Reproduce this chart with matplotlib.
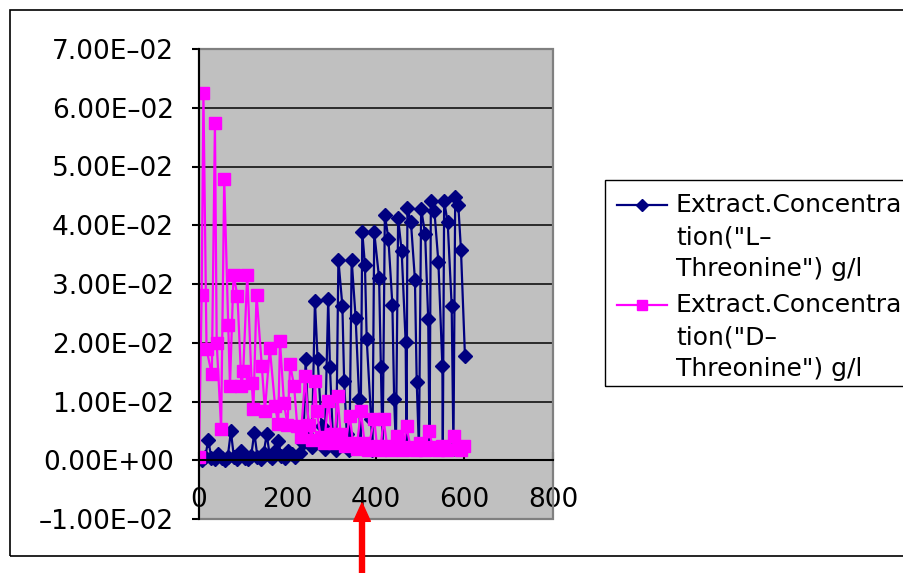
import matplotlib
matplotlib.use('Agg')
import matplotlib.pyplot as plt
from matplotlib.lines import Line2D
from matplotlib.patches import Rectangle
from matplotlib.ticker import FuncFormatter

W, H = 904, 573

# L-Threonine extract concentration (g/l) vs time
l_x = [0, 7, 14, 21, 28, 36, 44, 51, 58, 65, 72, 79, 87, 96, 104, 111, 118, 125,
       132, 139, 146, 153, 160, 166, 172, 179, 186, 194, 202, 210, 218, 228, 236,
       241, 248, 255, 262, 268, 277, 284, 292, 296, 303, 310, 315, 324, 328, 334,
       340, 345, 354, 362, 365, 369, 375, 379, 389, 392, 396, 407, 411, 415, 420,
       428, 437, 441, 445, 450, 458, 467, 469, 471, 479, 488, 492, 497, 502, 511,
       518, 521, 524, 532, 541, 550, 551, 554, 562, 571, 575, 579, 586, 592, 601]
l_y = [0.0003, 0.0001, 0.0006, 0.0034, 0.0004, 0.0002, 0.0010, 0.0003, 0.0001,
       0.0006, 0.0049, 0.0005, 0.0002, 0.0016, 0.0003, 0.0002, 0.0008, 0.0047,
       0.0006, 0.0002, 0.0012, 0.0044, 0.0008, 0.0003, 0.0015, 0.0033, 0.0008,
       0.0004, 0.0016, 0.0010, 0.0006, 0.0013, 0.0030, 0.0173, 0.0040, 0.0022,
       0.0271, 0.0173, 0.0058, 0.0020, 0.0274, 0.0158, 0.0030, 0.0018, 0.0341,
       0.0263, 0.0135, 0.0044, 0.0018, 0.0341, 0.0242, 0.0104, 0.0025, 0.0388,
       0.0333, 0.0206, 0.0070, 0.0018, 0.0388, 0.0310, 0.0158, 0.0020, 0.0418,
       0.0377, 0.0265, 0.0104, 0.0020, 0.0412, 0.0356, 0.0201, 0.0020, 0.0429,
       0.0405, 0.0307, 0.0134, 0.0020, 0.0428, 0.0385, 0.0240, 0.0020, 0.0441,
       0.0424, 0.0337, 0.0160, 0.0020, 0.0441, 0.0405, 0.0263, 0.0020, 0.0448,
       0.0434, 0.0358, 0.0178]

# D-Threonine extract concentration (g/l) vs time
d_x = [0, 6, 10, 17, 29, 36, 40, 50, 57, 66, 70, 78, 87, 96, 100, 109, 119, 123,
       130, 142, 149, 160, 172, 179, 183, 192, 200, 206, 215, 222, 230, 240, 248,
       255, 262, 266, 275, 283, 292, 300, 306, 313, 320, 330, 341, 348, 356, 366,
       374, 382, 396, 402, 410, 417, 425, 435, 447, 455, 462, 469, 478, 490, 500,
       510, 520, 528, 540, 550, 560, 577, 585, 592, 600]
d_y = [0.0006, 0.0282, 0.0625, 0.0189, 0.0146, 0.0574, 0.0200, 0.0054, 0.0479,
       0.0231, 0.0126, 0.0316, 0.0279, 0.0126, 0.0152, 0.0316, 0.0132, 0.0087,
       0.0282, 0.0160, 0.0084, 0.0191, 0.0092, 0.0061, 0.0203, 0.0098, 0.0060,
       0.0163, 0.0126, 0.0058, 0.0040, 0.0143, 0.0060, 0.0035, 0.0135, 0.0084,
       0.0040, 0.0030, 0.0101, 0.0045, 0.0030, 0.0109, 0.0045, 0.0025, 0.0075,
       0.0030, 0.0020, 0.0084, 0.0030, 0.0018, 0.0070, 0.0025, 0.0018, 0.0070,
       0.0025, 0.0018, 0.0041, 0.0020, 0.0018, 0.0058, 0.0022, 0.0018, 0.0030,
       0.0018, 0.0050, 0.0022, 0.0018, 0.0025, 0.0018, 0.0041, 0.0020, 0.0018,
       0.0025]

x_ticks = [0, 200, 400, 600, 800]
y_ticks = [-0.01, 0.0, 0.01, 0.02, 0.03, 0.04, 0.05, 0.06, 0.07]
legend_l = ['Extract.Concentra', 'tion("L\u2013', 'Threonine") g/l']
legend_d = ['Extract.Concentra', 'tion("D\u2013', 'Threonine") g/l']

navy = '#000080'
magenta = '#FF00FF'

fig = plt.figure(figsize=(W / 100, H / 100), dpi=100)
ax = fig.add_axes([199 / W, 1 - 519 / H, (553 - 199) / W, (519 - 49) / H])
ax.set_facecolor('#C0C0C0')
ax.set_xlim(0, 800)
ax.set_ylim(-0.01, 0.07)

for y in y_ticks[2:-1]:
    ax.axhline(y, color='#2a2a2a', lw=1.4, zorder=1)

ax.plot(l_x, l_y, color=navy, lw=1.6, marker='D', ms=7, zorder=3)
ax.plot(d_x, d_y, color=magenta, lw=1.6, marker='s', ms=8, zorder=4)

# plot area border
ax.add_patch(Rectangle((0, 0), 1, 1, transform=ax.transAxes, fill=False,
                       ec='#808080', lw=1.6, clip_on=False, zorder=2))
ax.spines['top'].set_visible(False)
ax.spines['right'].set_visible(False)
ax.spines['left'].set_color('black')
ax.spines['left'].set_linewidth(1.5)
ax.spines['bottom'].set_position(('data', 0))
ax.spines['bottom'].set_color('black')
ax.spines['bottom'].set_linewidth(1.5)
ax.spines['left'].set_zorder(5)
ax.spines['bottom'].set_zorder(5)

ax.set_xticks(x_ticks)
ax.set_yticks(y_ticks)
ax.yaxis.set_major_formatter(FuncFormatter(lambda v, p: f"{v:.2E}".replace('-', '\u2013')))
ax.tick_params(axis='y', direction='out', length=5, width=1.5, pad=13, labelsize=19)
ax.tick_params(axis='x', direction='in', length=6, width=1.5, pad=19, labelsize=19)

# chart border
fig.add_artist(Rectangle((10 / W, 1 - 556 / H), 1.0, (556 - 10) / H,
                         transform=fig.transFigure, fill=False, ec='black', lw=1.2))

# legend
fig.add_artist(Rectangle((605 / W, 1 - 386 / H), 0.6, (386 - 180) / H,
                         transform=fig.transFigure, fill=False, ec='black', lw=1.0))
for top, lines, col, mk, ms in [(205, legend_l, navy, 'D', 6), (305, legend_d, magenta, 's', 7)]:
    fig.add_artist(Line2D([617 / W, 667 / W], [1 - top / H] * 2, color=col, lw=1.6,
                          transform=fig.transFigure))
    fig.add_artist(Line2D([642 / W], [1 - top / H], color=col, marker=mk, ms=ms,
                          transform=fig.transFigure))
    for i, s in enumerate(lines):
        fig.text(676 / W, 1 - (top + i * 32) / H, s, fontsize=18, va='center', ha='left')

# red arrow
fig.add_artist(plt.Annotation('', xy=(362 / W, 1 - 503 / H), xytext=(362 / W, -0.02),
                              xycoords='figure fraction', textcoords='figure fraction',
                              arrowprops=dict(arrowstyle='simple,head_length=1.1,head_width=1.0,tail_width=0.3',
                                              mutation_scale=12, color='red', shrinkA=0, shrinkB=0)))

fig.savefig('out.png', dpi=100)
